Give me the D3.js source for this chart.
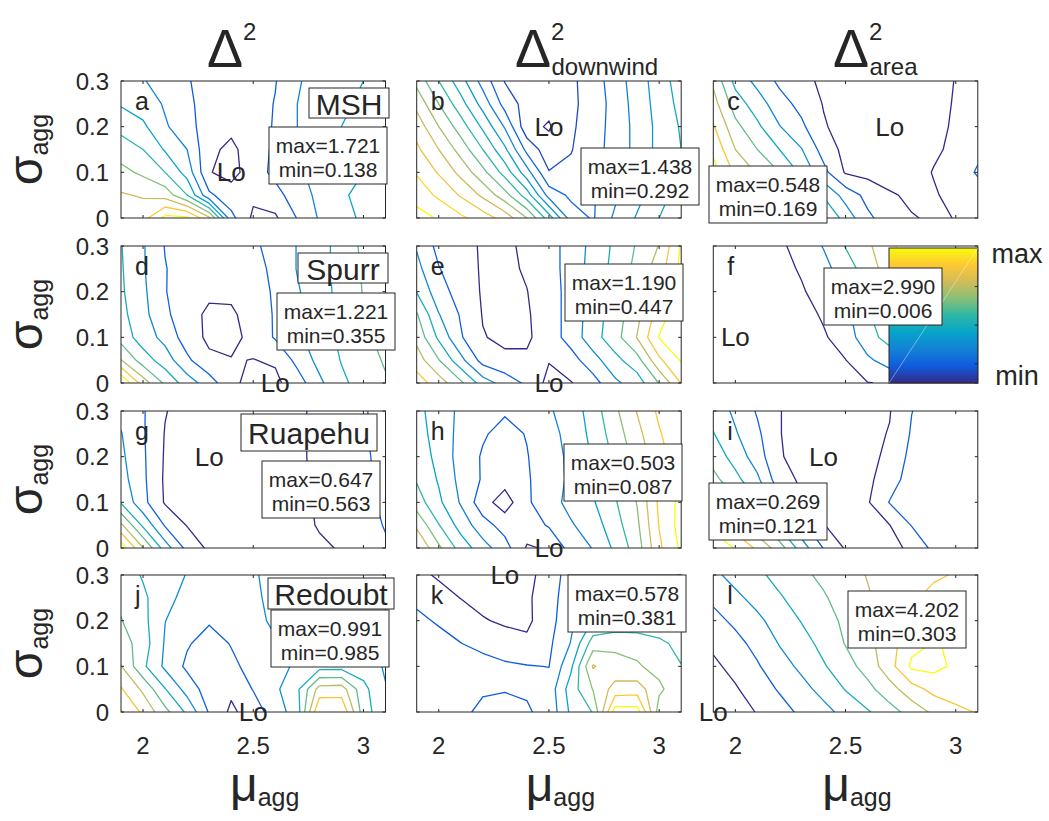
<!DOCTYPE html>
<html>
<head>
<meta charset="utf-8">
<script src="https://cdn.jsdelivr.net/npm/d3@7"></script>
<style>
  body { margin: 0; background: #fff; }
  text { font-family: "Liberation Sans", Arial, Helvetica, sans-serif; fill: #262626; }
</style>
</head>
<body>
<svg id="chart" width="1049" height="821"></svg>
<script>
// grid of the misfit surfaces (mu_agg across, sigma_agg down, top row = 0.3)
const muValues = [1.9, 2.0, 2.1, 2.2, 2.3, 2.4, 2.5, 2.6, 2.7, 2.8, 2.9, 3.0, 3.1];
const sigmaValues = [0.3, 0.25, 0.2, 0.15, 0.1, 0.05, 0];

const gridA = [
  [3.3, 3.05, 2.7, 2.1, 1.5, 1.6, 1.6, 1.95, 2.9, 3.4, 3.9, 4.0, 4.3],
  [3.9, 3.5, 2.9, 2.3, 1.4, 1.5, 1.55, 2.05, 3.0, 3.5, 3.9, 4.1, 4.4],
  [4.7, 4.2, 3.1, 2.5, 1.3, 1.2, 1.5, 2.1, 3.0, 3.6, 4.0, 4.2, 4.5],
  [5.5, 5.0, 3.9, 3.0, 1.2, 0.8, 1.45, 2.2, 2.9, 3.5, 3.8, 4.1, 4.3],
  [6.3, 5.8, 5.0, 3.6, 1.05, 0.7, 1.45, 2.3, 2.8, 3.4, 3.7, 4.0, 4.2],
  [7.1, 6.9, 6.6, 5.0, 2.2, 1.4, 1.2, 1.6, 2.6, 3.2, 3.9, 4.2, 4.3],
  [7.4, 7.6, 9.3, 9.2, 7.2, 2.3, 0.8, 0.85, 2.05, 3.1, 3.8, 4.1, 4.2]
];
const gridB = [
  [8.7, 7.0, 5.4, 3.6, 1.95, 1.6, 1.5, 1.8, 2.5, 3.5, 4.5, 5.5, 6.5],
  [9.7, 8.0, 6.4, 4.6, 2.6, 1.6, 1.3, 1.8, 2.4, 3.4, 4.4, 5.4, 6.3],
  [10.6, 9.0, 7.5, 5.8, 3.9, 1.3, 0.9, 1.85, 2.5, 3.4, 4.3, 5.3, 6.1],
  [11.2, 10.0, 8.6, 7.0, 5.2, 2.7, 1.4, 1.95, 2.6, 3.4, 4.3, 5.3, 6.0],
  [11.9, 10.9, 9.7, 8.3, 6.6, 4.4, 2.05, 2.2, 2.8, 3.5, 4.4, 5.4, 6.2],
  [12.6, 11.8, 10.9, 9.8, 8.4, 6.5, 3.6, 2.8, 2.9, 3.8, 4.7, 5.6, 6.5],
  [13.4, 12.9, 12.2, 11.5, 10.6, 9.0, 6.5, 3.5, 2.9, 4.2, 5.1, 6.0, 7.0]
];
const gridC = [
  [5.8, 3.7, 2.7, 1.8, 1.3, 0.8, 0.6, 0.5, 0.5, 0.6, 0.8, 1.02, 1.3],
  [6.4, 4.5, 3.5, 2.4, 1.7, 0.95, 0.6, 0.5, 0.5, 0.6, 0.8, 1.05, 1.4],
  [7.1, 5.3, 4.2, 3.05, 2.2, 1.1, 0.6, 0.5, 0.5, 0.6, 0.8, 1.1, 1.5],
  [7.8, 6.0, 5.0, 4.0, 3.05, 1.6, 0.7, 0.55, 0.55, 0.6, 0.85, 1.2, 1.8],
  [8.4, 6.8, 5.9, 5.0, 3.8, 2.3, 0.9, 0.7, 0.6, 0.6, 1.05, 1.5, 2.1],
  [8.9, 7.6, 6.8, 6.05, 5.05, 3.9, 2.6, 1.7, 1.1, 0.85, 0.9, 1.3, 1.6],
  [9.3, 8.4, 7.7, 7.05, 6.1, 5.05, 3.6, 2.2, 1.5, 1.05, 0.9, 1.02, 1.4]
];
const gridD = [
  [4.05, 3.1, 1.95, 1.6, 1.5, 1.5, 1.9, 2.2, 3.05, 3.6, 4.4, 5.2, 5.8],
  [4.1, 3.1, 2.05, 1.5, 1.4, 1.4, 1.7, 2.2, 3.05, 3.6, 4.4, 5.1, 5.7],
  [4.15, 3.2, 2.05, 1.4, 1.2, 1.2, 1.5, 2.15, 2.9, 3.6, 4.3, 5.05, 5.6],
  [4.3, 3.3, 2.2, 1.4, 0.8, 0.85, 1.4, 2.1, 2.9, 3.6, 4.3, 4.9, 5.4],
  [4.6, 3.5, 2.7, 1.5, 0.8, 0.7, 1.3, 2.1, 2.8, 3.5, 4.2, 4.8, 5.3],
  [6.05, 4.5, 3.5, 2.2, 1.2, 1.05, 0.98, 1.1, 2.3, 3.3, 4.05, 4.6, 5.1],
  [9.05, 6.5, 4.8, 3.5, 2.5, 1.2, 0.7, 0.8, 1.5, 2.8, 3.8, 4.4, 4.9]
];
const gridE = [
  [2.9, 1.7, 1.3, 0.9, 0.8, 1.2, 1.6, 2.4, 3.3, 4.2, 5.1, 6.05, 8.1],
  [3.3, 2.05, 1.4, 0.9, 0.8, 1.1, 1.6, 2.4, 3.4, 4.3, 5.3, 6.5, 8.3],
  [3.95, 2.4, 1.6, 0.9, 0.75, 0.98, 1.5, 2.4, 3.5, 4.4, 5.5, 7.05, 8.6],
  [5.1, 3.05, 1.9, 0.95, 0.75, 0.9, 1.5, 2.4, 3.5, 4.5, 5.7, 7.5, 8.8],
  [5.7, 3.8, 2.1, 1.05, 0.8, 0.85, 1.5, 2.4, 3.6, 4.6, 6.05, 8.05, 9.05],
  [6.5, 5.05, 3.3, 1.6, 1.2, 1.15, 1.05, 1.6, 2.6, 3.7, 4.6, 6.8, 8.1],
  [7.5, 6.5, 5.2, 3.5, 2.6, 1.8, 0.7, 0.95, 1.6, 2.8, 3.5, 5.05, 7.05]
];
const gridF = [
  [0.5, 0.55, 0.65, 0.8, 1.4, 2.05, 3.05, 3.8, 4.8, 5.5, 6.05, 6.5, 7.0],
  [0.45, 0.5, 0.6, 0.7, 1.1, 1.7, 2.5, 3.5, 4.5, 5.2, 5.8, 6.3, 6.8],
  [0.4, 0.45, 0.5, 0.6, 0.9, 1.4, 2.1, 3.1, 4.05, 4.8, 5.5, 6.05, 6.5],
  [0.35, 0.4, 0.45, 0.5, 0.7, 1.1, 1.7, 2.9, 3.6, 4.4, 5.2, 5.7, 6.2],
  [0.3, 0.35, 0.4, 0.4, 0.6, 0.9, 1.4, 2.7, 3.3, 4.05, 4.8, 5.4, 6.05],
  [0.3, 0.3, 0.35, 0.35, 0.5, 0.7, 0.98, 1.8, 2.5, 3.4, 4.2, 5.05, 5.7],
  [0.3, 0.3, 0.3, 0.3, 0.4, 0.55, 0.75, 0.97, 1.1, 2.2, 3.2, 4.2, 5.05]
];
const gridG = [
  [2.7, 2.1, 1.05, 0.6, 0.5, 0.55, 0.6, 0.7, 0.85, 1.2, 1.6, 1.95, 2.2],
  [3.05, 2.1, 0.95, 0.55, 0.45, 0.5, 0.6, 0.7, 0.85, 1.2, 1.6, 1.95, 2.2],
  [3.2, 2.15, 0.9, 0.5, 0.45, 0.5, 0.6, 0.7, 0.85, 1.2, 1.55, 1.9, 2.2],
  [3.4, 2.2, 0.85, 0.5, 0.45, 0.5, 0.6, 0.7, 0.85, 1.15, 1.5, 1.85, 2.2],
  [3.9, 2.3, 0.9, 0.5, 0.5, 0.55, 0.6, 0.7, 0.8, 1.1, 1.4, 1.8, 2.15],
  [6.2, 3.8, 1.9, 0.95, 0.6, 0.6, 0.65, 0.7, 0.8, 1.05, 1.3, 1.7, 2.05],
  [8.6, 6.05, 3.5, 1.7, 0.8, 0.7, 0.7, 0.75, 0.8, 0.9, 1.05, 1.5, 1.9]
];
const gridH = [
  [4.3, 3.5, 2.8, 2.3, 2.1, 2.3, 2.9, 3.4, 4.5, 5.8, 7.05, 8.2, 8.9],
  [4.4, 3.6, 2.7, 2.1, 1.7, 2.05, 2.7, 3.3, 4.3, 5.5, 6.7, 7.9, 8.8],
  [4.6, 3.7, 2.6, 1.9, 1.5, 1.95, 2.6, 3.2, 4.1, 5.2, 6.4, 7.6, 8.7],
  [4.9, 3.9, 2.7, 1.9, 1.4, 1.9, 2.5, 3.2, 4.05, 5.05, 6.2, 7.4, 8.8],
  [5.5, 4.2, 2.9, 1.4, 0.5, 1.85, 2.6, 3.3, 3.9, 4.9, 6.05, 8.2, 9.3],
  [6.8, 5.05, 3.6, 2.4, 1.6, 1.5, 2.1, 2.9, 3.5, 4.6, 5.8, 8.05, 9.4],
  [8.05, 6.2, 4.6, 3.4, 2.4, 0.9, 1.1, 2.4, 3.05, 4.2, 5.5, 7.8, 9.2]
];
const gridI = [
  [3.6, 2.8, 1.9, 1.02, 0.8, 0.7, 0.7, 0.8, 0.95, 1.98, 2.4, 2.6, 2.7],
  [4.05, 3.1, 2.2, 1.02, 0.8, 0.7, 0.65, 0.75, 1.05, 2.1, 2.5, 2.65, 2.75],
  [4.6, 3.6, 2.5, 1.05, 0.8, 0.7, 0.65, 0.75, 1.2, 2.3, 2.6, 2.7, 2.8],
  [5.3, 4.3, 3.2, 1.4, 0.85, 0.7, 0.65, 0.8, 1.5, 2.5, 2.7, 2.8, 2.9],
  [6.2, 5.2, 4.1, 2.3, 1.1, 0.75, 0.7, 0.9, 2.05, 2.6, 2.8, 2.9, 2.95],
  [7.5, 6.5, 5.3, 3.8, 2.3, 1.02, 0.75, 0.85, 0.98, 2.05, 2.6, 2.8, 2.9],
  [9.05, 7.9, 6.8, 5.5, 3.5, 1.95, 0.9, 0.85, 0.85, 1.1, 2.3, 2.6, 2.8]
];
const gridJ = [
  [4.6, 3.9, 3.5, 2.95, 2.9, 2.9, 2.9, 3.3, 3.4, 3.5, 3.5, 3.4, 3.2],
  [4.8, 4.2, 3.3, 2.7, 2.6, 2.6, 2.8, 3.3, 3.4, 3.5, 3.5, 3.4, 3.1],
  [5.05, 4.3, 3.02, 2.4, 2.1, 2.3, 2.7, 3.2, 3.4, 3.5, 3.5, 3.3, 3.05],
  [5.5, 4.5, 2.9, 2.1, 1.6, 2.05, 2.5, 2.9, 3.4, 3.4, 3.4, 3.2, 2.9],
  [6.05, 4.2, 2.8, 1.8, 1.4, 1.8, 2.3, 2.6, 3.2, 3.6, 3.6, 3.5, 2.9],
  [7.1, 5.8, 4.05, 2.6, 1.5, 1.2, 2.05, 2.8, 3.8, 6.4, 6.5, 4.3, 3.05],
  [8.1, 6.8, 5.3, 3.8, 1.9, 0.8, 1.5, 2.5, 3.5, 8.0, 7.9, 4.5, 3.2]
];
const gridK = [
  [1.2, 0.9, 0.7, 0.6, 0.6, 0.8, 1.3, 2.6, 3.2, 3.3, 3.3, 3.2, 3.1],
  [1.8, 1.3, 0.98, 0.8, 0.7, 0.85, 1.5, 2.7, 3.5, 3.6, 3.6, 3.5, 3.3],
  [2.2, 1.9, 1.5, 1.05, 0.9, 0.8, 1.6, 2.8, 4.05, 4.2, 4.2, 4.05, 3.7],
  [2.5, 2.3, 2.02, 1.7, 1.3, 1.2, 1.8, 3.05, 5.5, 5.8, 5.7, 5.3, 4.6],
  [2.7, 2.6, 2.5, 2.4, 2.2, 2.05, 1.98, 3.8, 7.1, 6.3, 6.1, 5.7, 5.05],
  [2.6, 2.6, 2.5, 2.1, 2.05, 2.1, 2.4, 4.5, 6.05, 7.4, 7.5, 6.2, 5.3],
  [2.4, 2.4, 2.2, 1.8, 1.7, 1.9, 2.3, 4.2, 5.05, 9.5, 9.5, 5.5, 5.5]
];
const gridL = [
  [2.8, 3.3, 3.8, 4.3, 4.8, 5.2, 5.6, 6.05, 6.4, 6.7, 6.9, 7.05, 7.1],
  [2.2, 2.8, 3.3, 3.9, 4.4, 4.9, 5.4, 5.9, 6.4, 6.9, 7.2, 7.3, 7.3],
  [1.7, 2.2, 2.8, 3.4, 4.05, 4.6, 5.2, 5.8, 6.5, 7.3, 7.6, 7.6, 7.5],
  [1.2, 1.7, 2.3, 3.05, 3.6, 4.3, 5.05, 5.7, 6.6, 7.7, 8.05, 7.9, 7.6],
  [0.8, 1.3, 1.9, 2.6, 3.2, 3.9, 4.6, 5.4, 6.6, 8.2, 8.3, 7.8, 7.5],
  [0.5, 0.9, 1.5, 2.1, 2.7, 3.3, 4.05, 4.7, 5.6, 6.6, 7.3, 7.4, 7.3],
  [0.3, 0.6, 1.05, 1.6, 2.2, 2.7, 3.3, 3.9, 4.6, 5.4, 6.2, 6.8, 7.05]
];

const panelGrids = [gridA, gridB, gridC, gridD, gridE, gridF, gridG, gridH, gridI, gridJ, gridK, gridL];
const levelCounts = [9, 13, 8, 8, 8, 5, 8, 9, 8, 8, 9, 8];
const panelLetters = ["a", "b", "c", "d", "e", "f", "g", "h", "i", "j", "k", "l"];
const statsMax = ["1.721", "1.438", "0.548", "1.221", "1.190", "2.990", "0.647", "0.503", "0.269", "0.991", "0.578", "4.202"];
const statsMin = ["0.138", "0.292", "0.169", "0.355", "0.447", "0.006", "0.563", "0.087", "0.121", "0.985", "0.381", "0.303"];
// location of the "Lo" marker (mu, sigma)
const loMu = [2.4, 2.5, 2.7, 2.6, 2.5, 2.0, 2.3, 2.5, 2.4, 2.5, 2.3, 1.9];
const loSigma = [0.1, 0.2, 0.2, 0, 0, 0.1, 0.2, 0, 0.2, 0, 0.3, 0];
const volcanoNames = ["MSH", "Spurr", "Ruapehu", "Redoubt"];
const xTicks = [2, 2.5, 3];
const yTicks = [0, 0.1, 0.2, 0.3];

// layout
const colLeft = [121, 416.7, 713.3];
const rowTop = [81, 246, 411, 575];
const panelW = 264.5, panelH = 137;
// stats box top-left corners
const statsBox = [[269, 127], [581, 148], [709, 166], [277, 293], [565, 264], [824, 268],
                  [262, 461], [564, 444], [709, 483], [271, 610], [568, 575], [848, 591]];
const nameBox = [[309, 88, 80, 30], [298, 253, 90, 30], [241, 414, 136, 37], [268, 578, 126, 31]];

const parulaStops = ["#352a87", "#0f5cdd", "#1481d6", "#06a4ca", "#2eb7a4", "#87bf77", "#d1bb59", "#fec832", "#f9fb0e"];
const parula = d3.scaleLinear()
  .domain(d3.range(parulaStops.length).map(i => i / (parulaStops.length - 1)))
  .range(parulaStops)
  .interpolate(d3.interpolateRgb);

const svg = d3.select("#chart");
const defs = svg.append("defs");
const axisColor = "#262626";

// marching squares, one segment list per level
function isoSegments(grid, level) {
  const segs = [];
  const cross = (a, b) => (a < level) !== (b < level);
  const t = (a, b) => (level - a) / (b - a);
  for (let j = 0; j < grid.length - 1; j++) {
    for (let i = 0; i < grid[0].length - 1; i++) {
      const tl = grid[j][i], tr = grid[j][i + 1], bl = grid[j + 1][i], br = grid[j + 1][i + 1];
      const m0 = muValues[i], m1 = muValues[i + 1], s0 = sigmaValues[j], s1 = sigmaValues[j + 1];
      const pts = [];
      if (cross(tl, tr)) pts.push([m0 + t(tl, tr) * (m1 - m0), s0]);
      if (cross(tr, br)) pts.push([m1, s0 + t(tr, br) * (s1 - s0)]);
      if (cross(br, bl)) pts.push([m1 + t(br, bl) * (m0 - m1), s1]);
      if (cross(bl, tl)) pts.push([m0, s1 + t(bl, tl) * (s0 - s1)]);
      if (pts.length === 2) segs.push(pts);
      else if (pts.length === 4) {
        const c = (tl + tr + bl + br) / 4;
        if ((c < level) === (tl < level)) { segs.push([pts[0], pts[1]]); segs.push([pts[2], pts[3]]); }
        else { segs.push([pts[0], pts[3]]); segs.push([pts[1], pts[2]]); }
      }
    }
  }
  return segs;
}

panelGrids.forEach((grid, k) => {
  const col = k % 3, row = Math.floor(k / 3);
  const left = colLeft[col], top = rowTop[row];
  const x = d3.scaleLinear().domain([1.9, 3.1]).range([left, left + panelW]);
  const y = d3.scaleLinear().domain([0, 0.3]).range([top + panelH, top]);
  const g = svg.append("g").attr("class", "panel");

  defs.append("clipPath").attr("id", "clip" + k)
    .append("rect").attr("x", left).attr("y", top).attr("width", panelW).attr("height", panelH);

  const n = levelCounts[k];
  const levels = d3.range(1, n + 1);
  const lines = g.append("g").attr("clip-path", `url(#clip${k})`);
  levels.forEach(lv => {
    const segs = isoSegments(grid, lv);
    if (!segs.length) return;
    lines.append("path")
      .attr("d", segs.map(s => `M${x(s[0][0])},${y(s[0][1])}L${x(s[1][0])},${y(s[1][1])}`).join(""))
      .attr("fill", "none")
      .attr("stroke", parula((lv - 1) / (n - 1)))
      .attr("stroke-width", 1.3)
      .attr("stroke-linecap", "round");
  });

  // frame and inward ticks on all sides
  g.append("rect").attr("x", left).attr("y", top).attr("width", panelW).attr("height", panelH)
    .attr("fill", "none").attr("stroke", axisColor).attr("stroke-width", 1);
  xTicks.forEach(v => {
    g.append("line").attr("x1", x(v)).attr("x2", x(v)).attr("y1", top + panelH).attr("y2", top + panelH - 3).attr("stroke", axisColor);
    g.append("line").attr("x1", x(v)).attr("x2", x(v)).attr("y1", top).attr("y2", top + 3).attr("stroke", axisColor);
  });
  yTicks.forEach(v => {
    g.append("line").attr("x1", left).attr("x2", left + 3).attr("y1", y(v)).attr("y2", y(v)).attr("stroke", axisColor);
    g.append("line").attr("x1", left + panelW).attr("x2", left + panelW - 3).attr("y1", y(v)).attr("y2", y(v)).attr("stroke", axisColor);
  });

  if (col === 0) {
    yTicks.forEach(v => {
      g.append("text").attr("x", left - 12).attr("y", y(v)).attr("text-anchor", "end")
        .attr("dominant-baseline", "central").attr("font-size", 24).text(d3.format("~g")(v));
    });
  }
  if (row === 3) {
    xTicks.forEach(v => {
      g.append("text").attr("x", x(v)).attr("y", top + panelH + 33).attr("text-anchor", "middle")
        .attr("dominant-baseline", "central").attr("font-size", 24).text(v);
    });
  }

  // panel letter
  g.append("text").attr("x", left + 14).attr("y", top + 29).attr("font-size", 25).text(panelLetters[k]);

  // colorbar sits inside panel f
  if (k === 5) {
    const grad = defs.append("linearGradient").attr("id", "parulaGrad")
      .attr("x1", 0).attr("y1", 1).attr("x2", 0).attr("y2", 0);
    parulaStops.forEach((c, i) => grad.append("stop").attr("offset", i / (parulaStops.length - 1)).attr("stop-color", c));
    const cbx = 889, cby = 248, cbw = left + panelW - 889, cbh = top + panelH - 248;
    g.append("rect").attr("x", cbx).attr("y", cby).attr("width", cbw).attr("height", cbh)
      .attr("fill", "url(#parulaGrad)").attr("stroke", axisColor);
    g.append("line").attr("x1", cbx).attr("y1", cby + cbh).attr("x2", cbx + cbw).attr("y2", cby)
      .attr("stroke", "#fff").attr("stroke-opacity", 0.5).attr("stroke-width", 0.8);
    [1, 2, 3].forEach(i => {
      const ty = cby + cbh * i / 3.5;
      g.append("line").attr("x1", cbx + cbw).attr("x2", cbx + cbw - 3).attr("y1", ty).attr("y2", ty).attr("stroke", axisColor);
    });
    g.append("text").attr("x", 1017).attr("y", 254).attr("text-anchor", "middle")
      .attr("dominant-baseline", "central").attr("font-size", 27).text("max");
    g.append("text").attr("x", 1017).attr("y", 376).attr("text-anchor", "middle")
      .attr("dominant-baseline", "central").attr("font-size", 27).text("min");
  }

  // volcano name box in first column
  if (col === 0) {
    const nb = nameBox[row];
    g.append("rect").attr("x", nb[0]).attr("y", nb[1]).attr("width", nb[2]).attr("height", nb[3])
      .attr("fill", "#fff").attr("stroke", axisColor);
    g.append("text").attr("x", nb[0] + nb[2] / 2).attr("y", nb[1] + nb[3] / 2 + 1)
      .attr("text-anchor", "middle").attr("dominant-baseline", "central").attr("font-size", 30)
      .text(volcanoNames[row]);
  }

  // max / min box
  const sb = statsBox[k];
  g.append("rect").attr("x", sb[0]).attr("y", sb[1]).attr("width", 118).attr("height", 57)
    .attr("fill", "#fff").attr("stroke", axisColor);
  g.append("text").attr("x", sb[0] + 59).attr("y", sb[1] + 18).attr("text-anchor", "middle")
    .attr("dominant-baseline", "central").attr("font-size", 21).text("max=" + statsMax[k]);
  g.append("text").attr("x", sb[0] + 59).attr("y", sb[1] + 42).attr("text-anchor", "middle")
    .attr("dominant-baseline", "central").attr("font-size", 21).text("min=" + statsMin[k]);

  // Lo marker
  g.append("text").attr("x", x(loMu[k])).attr("y", y(loSigma[k])).attr("text-anchor", "middle")
    .attr("dominant-baseline", "central").attr("font-size", 26).attr("fill", "#000").text("Lo");
});

// column titles
const titleSubs = ["", "downwind", "area"];
const titleX = [207, 515, 833];
titleSubs.forEach((sub, i) => {
  const t = svg.append("text").attr("x", titleX[i]).attr("y", 67);
  t.append("tspan").attr("font-size", 54).text("\u0394");
  t.append("tspan").attr("font-size", 24).attr("dy", -27).text("2");
  if (sub) t.append("tspan").attr("font-size", 24).attr("dx", -13).attr("dy", 35).text(sub);
});

// x labels
colLeft.forEach(left => {
  const t = svg.append("text").attr("x", left + 109).attr("y", 801);
  t.append("tspan").attr("font-size", 48).text("\u03bc");
  t.append("tspan").attr("font-size", 25).attr("dy", 5).text("agg");
});

// y labels
rowTop.forEach(top => {
  const t = svg.append("text").attr("transform", `translate(42,${top + panelH / 2}) rotate(-90)`)
    .attr("text-anchor", "middle");
  t.append("tspan").attr("font-size", 48).text("\u03c3");
  t.append("tspan").attr("font-size", 25).attr("dy", 6).text("agg");
});
</script>
</body>
</html>
